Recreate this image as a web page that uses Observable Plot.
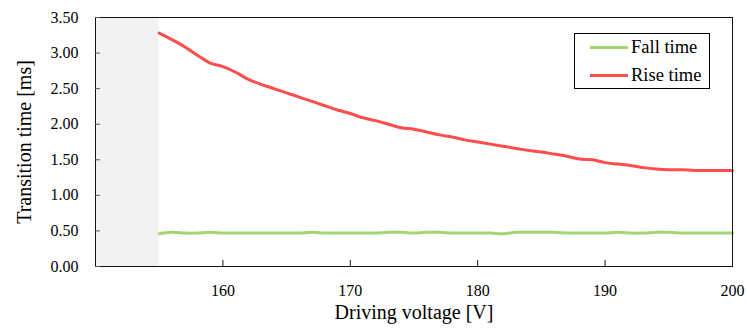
<!DOCTYPE html>
<html>
<head>
<meta charset="utf-8">
<script src="https://cdn.jsdelivr.net/npm/d3@7"></script>
<script src="https://cdn.jsdelivr.net/npm/@observablehq/plot@0.6"></script>
<style>
  html, body { margin: 0; padding: 0; background: #fff; }
  #chart { position: relative; width: 747px; height: 330px; }
  .legend {
    position: absolute; left: 574px; top: 33px; width: 134px; height: 54px;
    border: 1px solid #000; background: #fff;
    font-family: "Liberation Serif", "DejaVu Serif", serif; font-size: 18.5px; color: #000;
  }
  .legend .row { position: absolute; left: 15px; height: 20px; display: flex; align-items: center; }
  .legend .swatch { width: 38px; height: 3px; margin-right: 3px; }
</style>
</head>
<body>
<div id="chart"></div>
<script>
// Driving voltage sweep (V)
const voltage = [155,156,157,158,159,160,161,162,163,164,165,166,167,168,169,170,
  171,172,173,174,175,176,177,178,179,180,181,182,183,184,185,186,187,188,189,190,
  191,192,193,194,195,196,197,198,199,200];

// Rise time (ms)
const riseTime = [3.28,3.19,3.09,2.97,2.86,2.81,2.73,2.63,2.56,2.50,2.44,2.38,2.32,2.26,2.20,2.15,
  2.09,2.05,2.00,1.95,1.93,1.89,1.85,1.82,1.78,1.75,1.72,1.69,1.66,1.63,1.61,1.58,1.55,1.51,1.50,1.46,
  1.44,1.42,1.39,1.37,1.36,1.36,1.35,1.35,1.35,1.35];

// Fall time (ms)
const fallTime = [0.46,0.48,0.47,0.47,0.48,0.47,0.47,0.47,0.47,0.47,0.47,0.47,0.48,0.47,0.47,0.47,
  0.47,0.47,0.48,0.48,0.47,0.48,0.48,0.47,0.47,0.47,0.47,0.46,0.48,0.48,0.48,0.48,0.47,0.47,0.47,0.47,
  0.48,0.47,0.47,0.48,0.48,0.47,0.47,0.47,0.47,0.47];

const seriesNames = ["Fall time", "Rise time"];
const seriesColors = ["#a3d672", "#ff4d4d"];

// Voltage range below the operating threshold (shaded)
const shadedRange = [{x1: 150, x2: 155}];

const xTicks = [160, 170, 180, 190, 200];
const yTicks = [0, 0.5, 1, 1.5, 2, 2.5, 3, 3.5];

const xTitle = "Driving voltage [V]";
const yTitle = "Transition time [ms]";

const rows = voltage.flatMap((v, i) => [
  {voltage: v, time: fallTime[i], series: seriesNames[0]},
  {voltage: v, time: riseTime[i], series: seriesNames[1]}
]);

const W = 747, H = 330, mL = 95, mR = 15, mT = 17, mB = 64;
const plotW = W - mL - mR, plotH = H - mT - mB;

const chart = Plot.plot({
  width: W,
  height: H,
  marginLeft: mL,
  marginRight: mR,
  marginTop: mT,
  marginBottom: mB,
  style: {fontFamily: "Liberation Serif, DejaVu Serif, serif", fontSize: "16px", color: "#000", background: "#fff"},
  x: {domain: [150, 200]},
  y: {domain: [0, 3.5]},
  color: {domain: seriesNames, range: seriesColors},
  marks: [
    Plot.rect(shadedRange, {x1: "x1", x2: "x2", y1: 0, y2: 3.5, fill: "#f2f2f2"}),
    Plot.line(rows, {x: "voltage", y: "time", z: "series", stroke: "series", strokeWidth: 3, curve: "catmull-rom"}),
    Plot.frame({stroke: "#111", strokeWidth: 1}),
    // inward tick marks
    Plot.tickY(yTicks, {y: d => d, stroke: "#555", insetRight: plotW - 5}),
    Plot.tickX(xTicks, {x: d => d, stroke: "#111", insetTop: plotH - 6}),
    Plot.axisY(yTicks, {tickSize: 0, tickPadding: 17, tickFormat: d => d.toFixed(2), label: null, fontSize: 16}),
    Plot.axisX(xTicks, {tickSize: 0, tickPadding: 18, tickFormat: d => String(d), label: null, fontSize: 16}),
    Plot.text([yTitle], {frameAnchor: "left", textAnchor: "middle", dx: -71, rotate: -90, fontSize: 20}),
    Plot.text([xTitle], {frameAnchor: "bottom", dy: 52, fontSize: 20})
  ]
});

const root = document.getElementById("chart");
root.appendChild(chart);

// legend box drawn inside the plot area
const legend = document.createElement("div");
legend.className = "legend";
seriesNames.forEach((name, i) => {
  const row = document.createElement("div");
  row.className = "row";
  row.style.top = (3 + i * 28) + "px";
  const sw = document.createElement("div");
  sw.className = "swatch";
  sw.style.background = seriesColors[i];
  const label = document.createElement("span");
  label.textContent = name;
  row.appendChild(sw);
  row.appendChild(label);
  legend.appendChild(row);
});
root.appendChild(legend);
</script>
</body>
</html>
